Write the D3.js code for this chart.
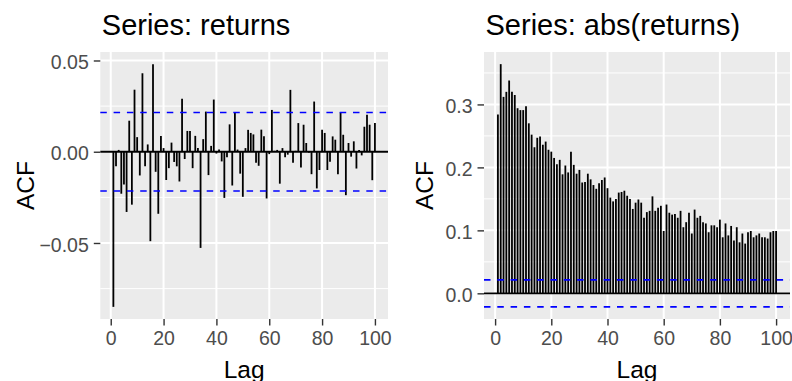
<!DOCTYPE html>
<html>
<head>
<meta charset="utf-8">
<script src="https://cdn.jsdelivr.net/npm/d3@7"></script>
<style>
  body { margin: 0; background: #fff; }
  svg { display: block; font-family: "Liberation Sans", Arial, sans-serif; }
</style>
</head>
<body>
<div id="chart"></div>
<script>
// ACF values, lags 1..100
const lags = d3.range(1, 101);

const returnsAcf = [
  -0.085, -0.008, 0.001, -0.023, -0.018, -0.033, 0.017, -0.029, 0.034, 0.008,
  -0.013, 0.043, -0.008, 0.004, -0.049, 0.048, -0.011, -0.034, 0.0086, 0.002,
  -0.0155, -0.009, 0.005, -0.0056, -0.008, -0.0163, 0.029, -0.004, 0.0114, 0.0114,
  -0.009, 0.0087, 0.002, -0.0527, 0.0069, 0.022, -0.0128, 0.0032, 0.0286, -0.001,
  0.0012, -0.0053, -0.0253, -0.003, 0.015, -0.0185, 0.0212, 0.0012, -0.012, -0.0247,
  0.002, 0.012, 0.0103, 0.0095, -0.006, -0.0077, 0.0121, 0.0085, -0.0256, -0.0013,
  0.0229, 0.0005, 0.001, -0.0175, 0.002, -0.003, -0.0016, 0.0339, -0.006, 0.0005,
  0.0157, -0.0086, 0.0148, 0.0048, -0.0005, -0.0123, 0.0275, -0.0201, -0.010, 0.0121,
  0.0103, -0.010, -0.0055, 0.0084, 0.0066, -0.0123, 0.0216, 0.0093, -0.0238, 0.0048,
  -0.0027, 0.0057, -0.0092, 0.001, -0.002, 0.0137, 0.0203, 0.0148, -0.0156, 0.0157
];

const absAcf = [
  0.284, 0.364, 0.312, 0.320, 0.338, 0.320, 0.315, 0.294, 0.291, 0.291,
  0.297, 0.270, 0.252, 0.232, 0.247, 0.249, 0.236, 0.241, 0.228, 0.225,
  0.215, 0.205, 0.212, 0.189, 0.203, 0.192, 0.225, 0.204, 0.190, 0.196,
  0.176, 0.177, 0.190, 0.181, 0.172, 0.166, 0.175, 0.180, 0.184, 0.167,
  0.152, 0.146, 0.150, 0.160, 0.161, 0.163, 0.155, 0.150, 0.134, 0.144,
  0.149, 0.144, 0.120, 0.129, 0.131, 0.154, 0.131, 0.136, 0.139, 0.099,
  0.141, 0.128, 0.125, 0.126, 0.120, 0.131, 0.105, 0.113, 0.128, 0.095,
  0.133, 0.120, 0.123, 0.113, 0.111, 0.097, 0.108, 0.108, 0.105, 0.117,
  0.089, 0.111, 0.092, 0.107, 0.084, 0.105, 0.081, 0.095, 0.079, 0.097,
  0.099, 0.089, 0.092, 0.095, 0.089, 0.089, 0.087, 0.097, 0.099, 0.099
];

const ciLevel = 0.0215;   // 1.96 / sqrt(n)

const xTicks = [0, 20, 40, 60, 80, 100];
const returnsTicks = [-0.05, 0, 0.05];
const returnsMinor = [-0.075, -0.025, 0.025];
const absTicks = [0, 0.1, 0.2, 0.3];
const absMinor = [0.05, 0.15, 0.25, 0.35];

const width = 792, height = 381;

const svg = d3.select("#chart").append("svg")
  .attr("width", width)
  .attr("height", height);

// ggplot style 5% expansion
function expand(lo, hi) {
  const pad = (hi - lo) * 0.05;
  return [lo - pad, hi + pad];
}

function drawPanel(opts) {
  const values = opts.values;
  const left = opts.left, right = opts.right, top = 52, bottom = 319;

  const x = d3.scaleLinear()
    .domain(expand(d3.min(lags), d3.max(lags)))
    .range([left, right]);

  const y = d3.scaleLinear()
    .domain(expand(Math.min(d3.min(values), -ciLevel), Math.max(d3.max(values), ciLevel)))
    .range([bottom, top]);

  const g = svg.append("g");

  g.append("rect")
    .attr("x", left).attr("y", top)
    .attr("width", right - left).attr("height", bottom - top)
    .attr("fill", "#EBEBEB");

  // grid
  g.selectAll(".minor").data(opts.minor).enter().append("line")
    .attr("x1", left).attr("x2", right)
    .attr("y1", d => y(d)).attr("y2", d => y(d))
    .attr("stroke", "#fff").attr("stroke-width", 1);

  g.selectAll(".hmajor").data(opts.ticks).enter().append("line")
    .attr("x1", left).attr("x2", right)
    .attr("y1", d => y(d)).attr("y2", d => y(d))
    .attr("stroke", "#fff").attr("stroke-width", 2);

  g.selectAll(".vmajor").data(xTicks).enter().append("line")
    .attr("x1", d => x(d)).attr("x2", d => x(d))
    .attr("y1", top).attr("y2", bottom)
    .attr("stroke", "#fff").attr("stroke-width", 2);

  // zero line
  g.append("line")
    .attr("x1", left).attr("x2", right)
    .attr("y1", y(0)).attr("y2", y(0))
    .attr("stroke", "#000").attr("stroke-width", 1.8);

  // acf bars
  g.selectAll(".bar").data(values).enter().append("line")
    .attr("x1", (d, i) => x(lags[i])).attr("x2", (d, i) => x(lags[i]))
    .attr("y1", y(0)).attr("y2", d => y(d))
    .attr("stroke", "#000").attr("stroke-width", 1.8);

  // confidence lines
  g.selectAll(".ci").data([ciLevel, -ciLevel]).enter().append("line")
    .attr("x1", left).attr("x2", right)
    .attr("y1", d => y(d)).attr("y2", d => y(d))
    .attr("stroke", "#0000FF").attr("stroke-width", 1.7)
    .attr("stroke-dasharray", "6.5,6.8");

  // axes
  const xAxis = g.append("g")
    .attr("transform", "translate(0," + bottom + ")")
    .call(d3.axisBottom(x).tickValues(xTicks).tickSize(6.5).tickPadding(6).tickFormat(d3.format("d")));

  const yAxis = g.append("g")
    .attr("transform", "translate(" + left + ",0)")
    .call(d3.axisLeft(y).tickValues(opts.ticks).tickSize(6.5).tickPadding(5).tickFormat(d3.format(opts.fmt)));

  [xAxis, yAxis].forEach(a => {
    a.select(".domain").remove();
    a.selectAll(".tick line").attr("stroke", "#333").attr("stroke-width", 1.4);
    a.selectAll(".tick text")
      .attr("fill", "#4D4D4D")
      .style("font-size", "19.5px")
      .style("font-family", "'Liberation Sans', Arial, sans-serif");
  });
  xAxis.selectAll(".tick text").attr("dy", "0.71em");
  yAxis.selectAll(".tick text").attr("dy", "0.42em");

  // titles
  svg.append("text")
    .attr("x", left + 1.5).attr("y", 35)
    .style("font-size", "29px")
    .text(opts.title);

  svg.append("text")
    .attr("x", (left + right) / 2).attr("y", 378)
    .attr("text-anchor", "middle")
    .style("font-size", "24.5px")
    .text("Lag");

  svg.append("text")
    .attr("transform", "translate(" + opts.yLabelX + "," + ((top + bottom) / 2) + ") rotate(-90)")
    .attr("text-anchor", "middle")
    .style("font-size", "24.5px")
    .text("ACF");
}

drawPanel({
  values: returnsAcf, left: 100.3, right: 388, ticks: returnsTicks, minor: returnsMinor,
  fmt: ".2f", title: "Series: returns", yLabelX: 34
});

drawPanel({
  values: absAcf, left: 484, right: 790, ticks: absTicks, minor: absMinor,
  fmt: ".1f", title: "Series: abs(returns)", yLabelX: 433
});
</script>
</body>
</html>
